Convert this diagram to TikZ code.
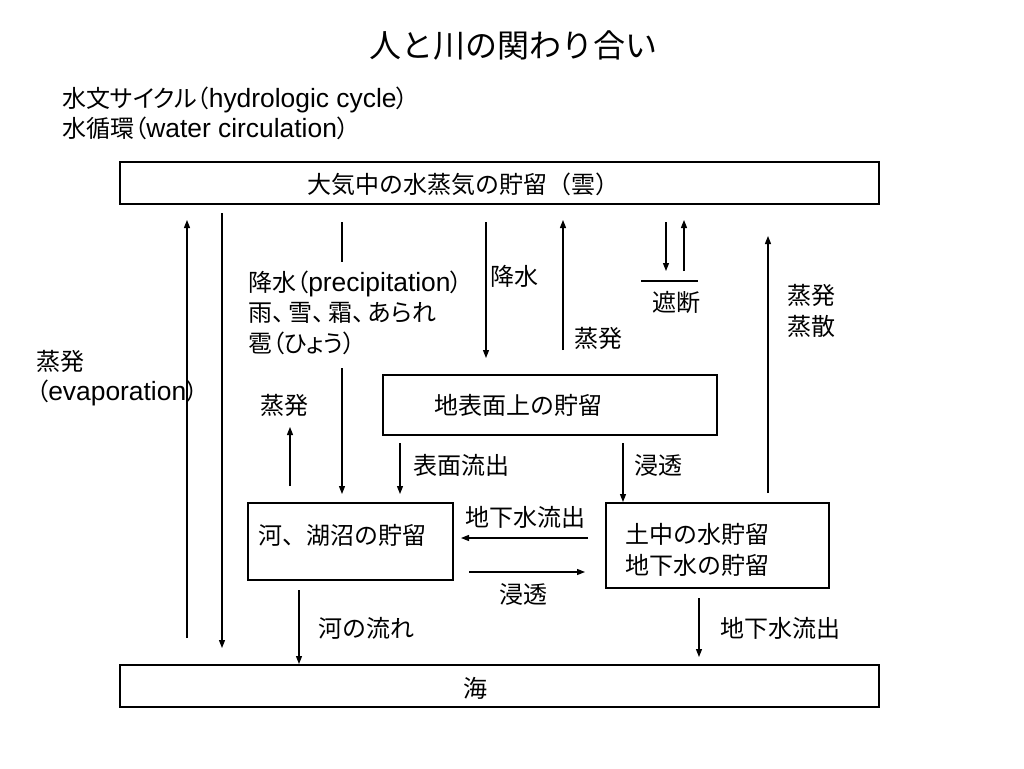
\documentclass[tikz,border=0pt]{standalone}
\usepackage{fontspec}
\setmainfont{Noto Sans CJK JP}
\newfontfamily\jpp[RawFeature=+palt]{Noto Sans CJK JP}
\newfontfamily\lat[Scale=1.1]{Liberation Sans}
\usetikzlibrary{arrows.meta,fit}
\begin{document}
\begin{tikzpicture}[x=0.75pt,y=-0.75pt,
  box/.style={draw,line width=0.9pt,inner sep=0pt},
  txt/.style={inner sep=0pt,font=\fontsize{18}{22.9}\selectfont,text=black},
  ptxt/.style={txt,font=\jpp\fontsize{18}{22.9}\selectfont},
  arr/.style={line width=0.9pt,-{Triangle[length=6pt,width=4.5pt]}},
  ln/.style={line width=0.9pt}]
\fill[white] (0,0) rectangle (1024,768);
\useasboundingbox (0,0) rectangle (1024,768);
% title and headings
\node[inner sep=0pt,font=\fontsize{24}{28}\selectfont] (title) at (513,45) {人と川の関わり合い};
\node[ptxt,anchor=west] (h1) at (62,100) {水文サイクル（{\lat hydrologic cycle}）};
\node[ptxt,anchor=west] (h2) at (62,128) {水循環（{\lat water circulation}）};
% boxes
\node[box,fit={(120,162)(879,204)}] (top) {};
\node[txt] (toptext) at (463,184) {大気中の水蒸気の貯留（雲）};
\node[box,fit={(120,665)(879,707)}] (sea) {};
\node[txt] (seatext) at (475,688) {海};
\node[box,fit={(383,375)(717,435)}] (mid) {};
\node[txt] (midtext) at (518,405) {地表面上の貯留};
\node[box,fit={(248,503)(453,580)}] (river) {};
\node[txt,anchor=west] (rivertext) at (258,535) {河、湖沼の貯留};
\node[box,fit={(606,503)(829,588)}] (soil) {};
\node[txt,anchor=west,align=left] (soiltext) at (625,550) {土中の水貯留\\地下水の貯留};
% coordinates
\coordinate (a1) at (187,638); \coordinate (a2) at (187,220);
\coordinate (b1) at (222,213); \coordinate (b2) at (222,648);
\coordinate (c1) at (342,222); \coordinate (c2) at (342,262);
\coordinate (c3) at (342,368); \coordinate (c4) at (342,494);
\coordinate (d1) at (486,222); \coordinate (d2) at (486,358);
\coordinate (e1) at (563,350); \coordinate (e2) at (563,220);
\coordinate (f1) at (666,222); \coordinate (f2) at (666,271);
\coordinate (g1) at (684,271); \coordinate (g2) at (684,220);
\coordinate (h1c) at (641,281); \coordinate (h2c) at (698,281);
\coordinate (i1) at (768,493); \coordinate (i2) at (768,236);
\coordinate (j1) at (290,486); \coordinate (j2) at (290,427);
\coordinate (k1) at (400,443); \coordinate (k2) at (400,494);
\coordinate (l1) at (623,443); \coordinate (l2) at (623,502);
\coordinate (m1) at (588,538); \coordinate (m2) at (461,538);
\coordinate (n1) at (469,572); \coordinate (n2) at (585,572);
\coordinate (o1) at (299,590); \coordinate (o2) at (299,664);
\coordinate (p1) at (699,598); \coordinate (p2) at (699,657);
% connectors
\draw[arr] (a1) -- (a2);
\draw[arr] (b1) -- (b2);
\draw[ln] (c1) -- (c2);
\draw[arr] (c3) -- (c4);
\draw[arr] (d1) -- (d2);
\draw[arr] (e1) -- (e2);
\draw[arr] (f1) -- (f2);
\draw[arr] (g1) -- (g2);
\draw[ln] (h1c) -- (h2c);
\draw[arr] (i1) -- (i2);
\draw[arr] (j1) -- (j2);
\draw[arr] (k1) -- (k2);
\draw[arr] (l1) -- (l2);
\draw[arr] (m1) -- (m2);
\draw[arr] (n1) -- (n2);
\draw[arr] (o1) -- (o2);
\draw[arr] (p1) -- (p2);
% labels
\node[ptxt,anchor=west,align=left] (evapL) at (36,378) {蒸発\\（{\lat evaporation}）};
\node[ptxt,anchor=west,align=left] (precip) at (248,312.5) {降水（{\lat precipitation}）\\雨、\kern3pt 雪、\kern3pt 霜、\kern3pt あられ\\雹（ひょう）};
\node[txt,anchor=west] (kousui) at (490,276) {降水};
\node[txt,anchor=west] (jouhatsu1) at (574,338) {蒸発};
\node[txt] (shadan) at (676,302) {遮断};
\node[txt,anchor=west,align=left] (jousan) at (787,311) {蒸発\\蒸散};
\node[txt] (jouhatsu2) at (284,405) {蒸発};
\node[txt,anchor=west] (hyoumen) at (413,465) {表面流出};
\node[txt,anchor=west] (shintou1) at (634,465) {浸透};
\node[txt] (chika1) at (525,517) {地下水流出};
\node[txt] (shintou2) at (523,594) {浸透};
\node[txt,anchor=west] (kawa) at (318,628) {河の流れ};
\node[txt,anchor=west] (chika2) at (720,628) {地下水流出};
\end{tikzpicture}
\end{document}
